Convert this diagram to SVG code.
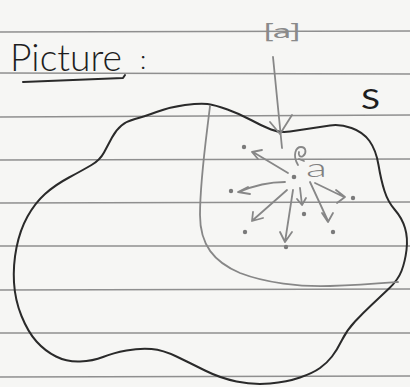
<svg xmlns="http://www.w3.org/2000/svg" width="410" height="387" viewBox="0 0 410 387">
<style>
.rule{stroke:#8f8f8f;stroke-width:1.4;fill:none}
.ink{stroke:#2a2a2a;stroke-width:2;fill:none;stroke-linecap:round;stroke-linejoin:round}
.pencil{stroke:#878787;stroke-width:1.8;fill:none;stroke-linecap:round;stroke-linejoin:round}
.dot{fill:#7a7a7a}
.hand{font-family:Lato,"Open Sans","Liberation Sans",Arial,sans-serif;font-weight:300}
.hand2{font-family:Lato,"Open Sans","Liberation Sans",Arial,sans-serif;font-weight:400}
</style>
<rect width="410" height="387" fill="#f6f6f4"/>
<g id="paper-lines">
<line class="rule" x1="0" y1="32" x2="410" y2="31"/>
<line class="rule" x1="0" y1="73" x2="410" y2="74"/>
<line class="rule" x1="0" y1="117" x2="410" y2="115"/>
<line class="rule" x1="0" y1="160" x2="410" y2="159"/>
<line class="rule" x1="0" y1="203" x2="410" y2="202"/>
<line class="rule" x1="0" y1="246" x2="410" y2="246"/>
<line class="rule" x1="0" y1="290" x2="410" y2="289"/>
<line class="rule" x1="0" y1="333" x2="410" y2="333"/>
<line class="rule" x1="0" y1="377" x2="410" y2="376"/>
</g>
<g id="title">
<text class="hand" x="10" y="71" font-size="38" fill="#1e1e1e" textLength="112" lengthAdjust="spacingAndGlyphs">Picture</text>
<path class="ink" d="M23,82 Q70,80 123,78 L125,75"/>
<text class="hand" x="140" y="69" font-size="26" fill="#1e1e1e">:</text>
</g>
<g id="set-S">
<path class="ink" d="M135,119 Q143,117 156.5,112 Q170,107 185,105 Q200,103 207.5,104 Q215,105 227.5,109.5 Q240,114 251,120 Q262,126 271,129.5 Q280,133 290,131.5 Q300,130 310,128.5 Q320,127 330,125.5 Q340,124 351.5,128 Q363,132 369.5,141 Q376,150 378.5,165 Q381,180 384.5,191 Q388,202 395,210 Q402,218 405,228 Q408,238 406.5,250 Q405,262 401.5,271 Q398,280 389,288.5 Q380,297 371.5,305 Q363,313 355,321.5 Q347,330 342,340 Q337,350 332,356.5 Q327,363 320,368 Q313,373 300,377.5 Q287,382 270,383.5 Q253,385 236.5,381.5 Q220,378 205,370.5 Q190,363 176.5,356.5 Q163,350 151.5,349 Q140,348 126.5,350.5 Q113,353 103,357 Q93,361 80,361.5 Q67,362 56,356.5 Q45,351 36.5,341.5 Q28,332 21.5,316 Q15,300 14,282.5 Q13,265 16.5,247.5 Q20,230 27.5,216.5 Q35,203 45,194 Q55,185 69,177.5 Q83,170 91.5,165 Q100,160 104,152.5 Q108,145 112,137.5 Q116,130 121.5,125.5 Q127,121 135,119 Z"/>
<text class="hand2" x="361" y="109" font-size="27" fill="#1e1e1e" textLength="19" lengthAdjust="spacingAndGlyphs">S</text>
</g>
<g id="class-a">
<path class="pencil" d="M210,106 C206,140 200,180 200,215 C200,245 214,262 240,273 C266,283 300,287 330,286 C360,285 385,283 398,282"/>
<text class="hand2" x="263" y="38" font-size="20" fill="#8a8a8a" textLength="38" lengthAdjust="spacingAndGlyphs">[a]</text>
</g>
<g id="point-a">
<circle class="dot" cx="294" cy="177" r="2.3"/>
<text class="hand" x="306" y="177" font-size="26" fill="#808080" textLength="21" lengthAdjust="spacingAndGlyphs">a</text>
<path class="pencil" d="M298,165 C292,155 296,147 301,147 C306,147 307,153 303,156 C300,158 298,155 299,152 M299,159 L304,161"/>
</g>
<g id="targets">
<circle class="dot" cx="244" cy="147" r="2.2"/>
<circle class="dot" cx="231" cy="191" r="2.2"/>
<circle class="dot" cx="245" cy="232" r="2.2"/>
<circle class="dot" cx="286" cy="247" r="2.2"/>
<circle class="dot" cx="304" cy="214" r="2.2"/>
<circle class="dot" cx="333" cy="232" r="2.2"/>
<circle class="dot" cx="353" cy="198" r="2.2"/>
</g>
<g id="connectors">
<path class="pencil" d="M273,57 L282,148"/>
<path class="pencil" d="M270,122 L280,134 L292,115"/>
<path class="pencil" d="M288,173 L253,152 M262,150 L252,152 L258,159"/>
<path class="pencil" d="M285,182 Q262,182 239,192 M248,187 L238,192 L250,194"/>
<path class="pencil" d="M287,190 L253,220 M253,212 L252,221 L263,218"/>
<path class="pencil" d="M293,190 L285,242 M280,232 L285,242 L292,232"/>
<path class="pencil" d="M300,188 L302,205 M297,199 L302,205 L306,198"/>
<path class="pencil" d="M310,182 L328,221 M322,213 L328,222 L333,213"/>
<path class="pencil" d="M315,183 L344,197 M336,190 L345,197 L337,203"/>
</g>
</svg>
